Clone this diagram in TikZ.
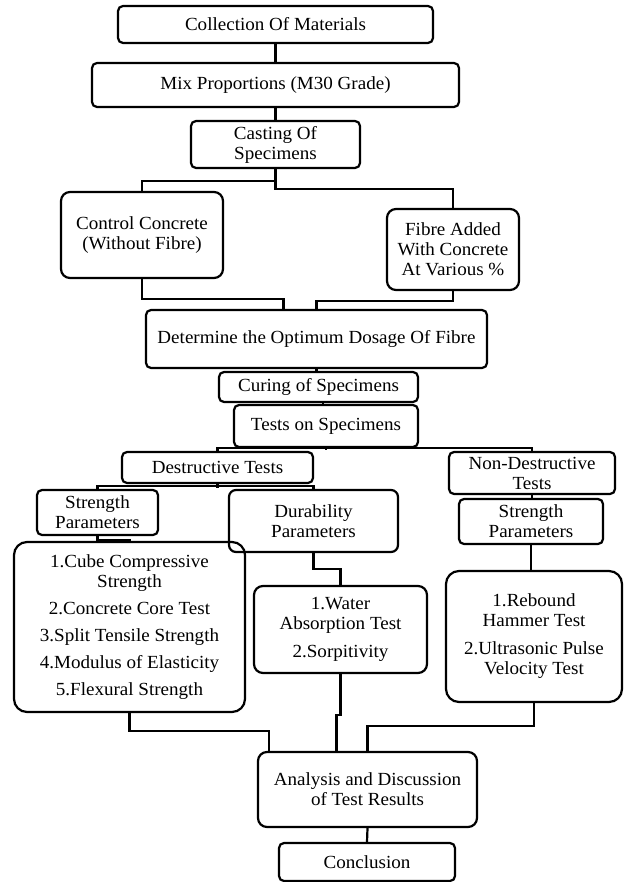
\documentclass[tikz,border=0pt]{standalone}
\usepackage{fontspec}
\setmainfont{Liberation Serif}[FakeStretch=1.03]
\usepackage{tikz}

\begin{document}
\begin{tikzpicture}[x=1pt,y=-1pt,line width=2.2pt,
    box/.style={draw,line width=2.2pt,rounded corners=5pt,align=center,inner sep=0pt,font=\fontsize{18.5}{20}\selectfont}]
    \useasboundingbox (0,0) rectangle (623,882);
    \node[box,minimum width=315,minimum height=37] (coll) at (275.5,24.5) {Collection Of Materials};
    \node[box,minimum width=367,minimum height=44] (mix) at (275.5,85) {Mix Proportions (M30 Grade)};
    \node[box,minimum width=169,minimum height=47] (cast) at (275.5,144.5) {Casting Of\\Specimens};
    \node[box,rounded corners=9pt,minimum width=162,minimum height=86] (ctrl) at (142,235) {Control Concrete\\(Without Fibre)};
    \node[box,rounded corners=9pt,minimum width=132,minimum height=81] (fibre) at (453,249.5) {Fibre Added\\With Concrete\\At Various \%};
    \node[box,minimum width=341,minimum height=58] (det) at (316.5,339) {Determine the Optimum Dosage Of Fibre};
    \node[box,minimum width=199,minimum height=30] (cure) at (318.5,387) {Curing of Specimens};
    \node[box,minimum width=184,minimum height=42] (tests) at (326,426) {Tests on Specimens};
    \node[box,minimum width=191,minimum height=31] (dest) at (217.5,467.5) {Destructive Tests};
    \node[box,minimum width=166,minimum height=42] (ndest) at (532,473) {Non-Destructive\\Tests};
    \node[box,minimum width=121,minimum height=45] (sl) at (97.5,512.5) {Strength\\Parameters};
    \node[box,rounded corners=7pt,minimum width=169,minimum height=62] (dur) at (313.5,521) {Durability\\Parameters};
    \node[box,minimum width=144,minimum height=45] (sr) at (531,521.5) {Strength\\Parameters};
    \node[box,rounded corners=13pt,minimum width=231,minimum height=170] (list) at (129.5,627) {1.Cube Compressive\\Strength\\[7pt]2.Concrete Core Test\\[7pt]3.Split Tensile Strength\\[7pt]4.Modulus of Elasticity\\[7pt]5.Flexural Strength};
    \node[box,rounded corners=9pt,minimum width=173,minimum height=87] (water) at (340.5,629.5) {1.Water\\Absorption Test\\[8pt]2.Sorpitivity};
    \node[box,rounded corners=13pt,minimum width=176,minimum height=131] (ndlist) at (534,636.5) {1.Rebound\\Hammer Test\\[8pt]2.Ultrasonic Pulse\\Velocity Test};
    \node[box,rounded corners=9pt,minimum width=219,minimum height=75] (ana) at (367.5,789.5) {Analysis and Discussion\\of Test Results};
    \node[box,minimum width=176,minimum height=38] (conc) at (367,862) {Conclusion};
    % top part
    \draw (coll.south) -- (mix.north);
    \draw (mix.south) -- (cast.north);
    \draw (cast.south) -- ++(0,12) -| (ctrl.north);
    \draw (cast.south) -- ++(0,20) -| (fibre.north);
    \draw (ctrl.south) -- ++(0,20) -| ([xshift=-33pt]det.north);
    \draw (fibre.south) -- ++(0,10) -| (det.north);
    \draw (det.south) -- (det.south |- cure.north);
    \draw ([xshift=4.5pt]cure.south) -- ([xshift=-3pt]tests.north);
    % tests
    \draw (tests.south) -- ++(0,2);
    \draw (dest.north) -- ++(0,-3) -| (ndest.north);
    \draw (dest.south) -- ++(0,4);
    \draw (sl.north) -- ++(0,-3) -| (dur.north);
    \draw (ndest.south) -- (ndest.south |- sr.north);
    \draw (sl.south) -- ++(0,3.5) -| (list.north);
    \draw (dur.south) -- ++(0,16) -| (water.north);
    \draw (sr.south) -- (sr.south |- ndlist.north);
    % results
    \draw (list.south) -- ++(0,18) -| ([xshift=-98.5pt]ana.north);
    \draw (water.south) -- ++(0,41) -- ++(-4,0) -- ([xshift=-31pt]ana.north);
    \draw (ndlist.south) -- ++(0,23) -| (ana.north);
    \draw (ana.south) -- (conc.north);
\end{tikzpicture}
\end{document}
